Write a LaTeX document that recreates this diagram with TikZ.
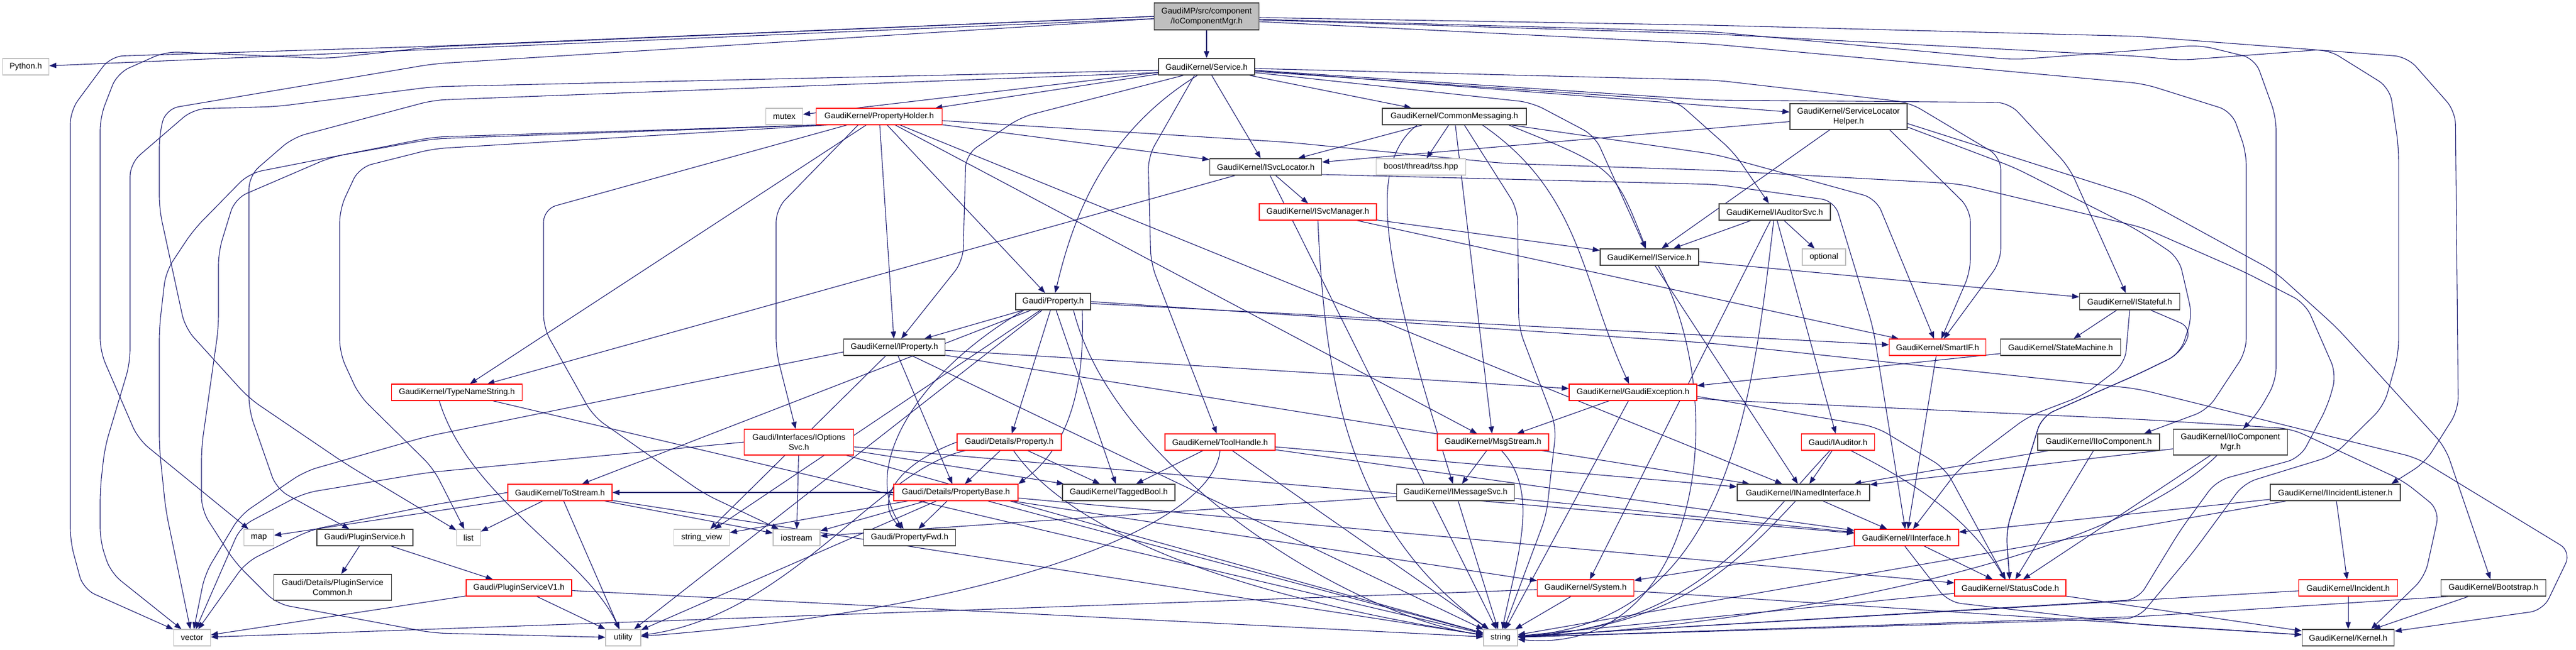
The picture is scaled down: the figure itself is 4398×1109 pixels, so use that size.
\documentclass[tikz,border=0pt]{standalone}
\usepackage{fontspec}
\setmainfont{Liberation Sans}
\usetikzlibrary{arrows.meta}
\definecolor{edgec}{HTML}{191970}
\definecolor{grayb}{HTML}{BFBFBF}
\definecolor{darkb}{HTML}{404040}
\definecolor{mainf}{HTML}{BFBFBF}
\newcommand\gvfont{\fontsize{14}{17}\selectfont}
\pgfdeclarelayer{edgelayer}
\pgfdeclarelayer{paperlayer}
\pgfsetlayers{paperlayer,edgelayer,main}
\tikzset{
  nbase/.style={rectangle, fill=white, line width=1.1pt, minimum height=28pt, inner sep=0pt, font=\gvfont, align=center, text=black},
  nb/.style={nbase, draw=darkb, line width=1.5pt, minimum width=#1},
  ng/.style={nbase, draw=grayb, minimum width=#1},
  nr/.style={nbase, draw=red, minimum width=#1},
  conn/.style={draw=edgec, line width=1.1pt, -{Triangle[length=12pt,width=9pt]}},
  connr/.style={conn, rounded corners=22pt},
}
\begin{document}
\begin{tikzpicture}[x=1pt,y=-1pt]
\useasboundingbox (0,0) rectangle (4398,1109);
\begin{pgfonlayer}{paperlayer}
\fill[white] (0,0) rectangle (4398,1109);
\end{pgfonlayer}
% ---------------- nodes ----------------
\node[nb=179pt, minimum height=46pt, fill=mainf] (io) at (2060,28) {GaudiMP/src/component\\/IoComponentMgr.h};
\node[nb=164pt] (svc) at (2060,114) {GaudiKernel/Service.h};
\node[ng=79pt] (py) at (44,114) {Python.h};
\node[ng=63pt] (mutex) at (1339,199) {mutex};
\node[nr=215pt] (ph) at (1501,199) {GaudiKernel/PropertyHolder.h};
\node[nb=246pt] (cm) at (2483,199) {GaudiKernel/CommonMessaging.h};
\node[nb=200pt, minimum height=44pt] (slh) at (3156,199) {GaudiKernel/ServiceLocator\\Helper.h};
\node[nb=191pt] (isl) at (2161,285) {GaudiKernel/ISvcLocator.h};
\node[ng=153pt] (tss) at (2426,285) {boost/thread/tss.hpp};
\node[nr=200pt] (ism) at (2250,362) {GaudiKernel/ISvcManager.h};
\node[nb=190pt] (ias) at (3030,362) {GaudiKernel/IAuditorSvc.h};
\node[nb=168pt] (isv) at (2816,439) {GaudiKernel/IService.h};
\node[ng=74pt] (opt) at (3114,439) {optional};
\node[nb=128pt] (prop) at (1798,515) {Gaudi/Property.h};
\node[nb=171pt] (ist) at (3636,515) {GaudiKernel/IStateful.h};
\node[nr=165pt] (sif) at (3308,593) {GaudiKernel/SmartIF.h};
\node[nb=205pt] (sm) at (3518,593) {GaudiKernel/StateMachine.h};
\node[nb=173pt] (ipr) at (1527,593) {GaudiKernel/IProperty.h};
\node[nr=223pt] (tns) at (780,670) {GaudiKernel/TypeNameString.h};
\node[nr=218pt] (gex) at (2788,670) {GaudiKernel/GaudiException.h};
\node[nr=178pt] (dprop) at (1723,755) {Gaudi/Details/Property.h};
\node[nr=188pt] (th) at (2083,755) {GaudiKernel/ToolHandle.h};
\node[nr=187pt, minimum height=44pt] (ios) at (1364,755) {Gaudi/Interfaces/IOptions\\Svc.h};
\node[nr=190pt] (msg) at (2549,755) {GaudiKernel/MsgStream.h};
\node[nr=125pt] (iaud) at (3138,755) {Gaudi/IAuditor.h};
\node[nb=208pt] (iioc) at (3583,755) {GaudiKernel/IIoComponent.h};
\node[nb=195pt, minimum height=44pt] (iiocm) at (3808,755) {GaudiKernel/IIoComponent\\Mgr.h};
\node[nr=178pt] (tos) at (956,841) {GaudiKernel/ToStream.h};
\node[nr=212pt] (pb) at (1632,841) {Gaudi/Details/PropertyBase.h};
\node[nb=192pt] (tb) at (1910,841) {GaudiKernel/TaggedBool.h};
\node[nb=201pt] (imsg) at (2485,841) {GaudiKernel/IMessageSvc.h};
\node[nb=226pt] (inamed) at (3079,841) {GaudiKernel/INamedInterface.h};
\node[nb=222pt] (iil) at (3987,841) {GaudiKernel/IIncidentListener.h};
\node[ng=51pt] (map) at (442,918) {map};
\node[nb=164pt] (ps) at (623,918) {Gaudi/PluginService.h};
\node[ng=41pt] (list) at (800,918) {list};
\node[ng=95pt] (sv) at (1198,918) {string\_view};
\node[ng=80pt] (iostr) at (1360,918) {iostream};
\node[nb=157pt] (pf) at (1553,918) {Gaudi/PropertyFwd.h};
\node[nr=178pt] (iif) at (3255,918) {GaudiKernel/IInterface.h};
\node[nb=201pt, minimum height=44pt] (pscom) at (568,1003) {Gaudi/Details/PluginService\\Common.h};
\node[nr=180pt] (psv1) at (886,1004) {Gaudi/PluginServiceV1.h};
\node[nr=165pt] (sys) at (2707,1004) {GaudiKernel/System.h};
\node[nr=190pt] (sc) at (3432,1004) {GaudiKernel/StatusCode.h};
\node[nr=169pt] (inc) at (4009,1004) {GaudiKernel/Incident.h};
\node[nb=179pt] (boot) at (4257,1004) {GaudiKernel/Bootstrap.h};
\node[ng=63pt] (vector) at (328,1089) {vector};
\node[ng=60pt] (utility) at (1064,1089) {utility};
\node[ng=58pt] (string) at (2562,1089) {string};
\node[nb=157pt] (kernel) at (4009,1089) {GaudiKernel/Kernel.h};
% ---------------- edges ----------------
\begin{pgfonlayer}{edgelayer}
% IoComponentMgr
\draw[conn] (io) -- (py);
\draw[conn] (io) -- (svc);
\draw[connr] (io.west) -- (740,79) -- (189,96) -- (120,189) -- (120,924) -- (142,1006) -- (vector);
\draw[connr] (io.west) -- (740,80) -- (557,100) -- (283,88) -- (200,125) -- (171,200) -- (171,600) -- (236,750) -- (map);
\draw[connr] ([yshift=-4pt]io.west) -- (740,109) -- (283,186) -- (272,230) -- (272,357) -- (316,560) -- (425,680) -- (590,792) -- (list);
\draw[connr] ([yshift=-2pt]io.east) -- (2920,43) -- (3650,62) -- (4110,97) -- (4192,190) -- (4197,700) -- (4140,790) -- ([xshift=-16pt]iil.north east);
\draw[connr] ([yshift=-5pt]io.east) -- (2920,54) -- (3439,102) -- (3650,86) -- (3755,77) -- (3850,100) -- (3886,200) -- (3886,650) -- (3855,705) -- ([xshift=120pt]iiocm.north west);
\draw[connr] ([yshift=-6pt]io.east) -- (2920,58) -- (3650,96) -- (3722,103) -- (3974,84) -- (4080,150) -- (4095,250) -- (4095,604) -- (4070,693) -- (3984,778) -- (3831,825) -- (3745,942) -- (3650,1056) -- (string);
\draw[connr] ([yshift=-9pt]io.east) -- (2920,75) -- (3660,143) -- (3810,190) -- (3835,260) -- (3835,600) -- (3769,700) -- ([xshift=-27pt]iioc.north east);
% Service
\draw[conn] (svc) -- (mutex);
\draw[conn] (svc) -- (ph);
\draw[conn] (svc) -- (cm);
\draw[conn] (svc) -- (slh);
\draw[conn] (svc) -- (isl);
\draw[conn] ([xshift=67pt]svc.south west) .. controls (1880,230) and (1830,380) .. (prop);
\draw[connr] ([xshift=43pt]svc.south west) -- (1743,200) -- (1649,264) -- (1644,446) -- (ipr);
\draw[connr] ([xshift=62pt]svc.south west) -- (1960,268) -- (1965,450) -- (th);
\draw[connr] ([yshift=-8pt]svc.east) -- (2860,171) -- (2960,260) -- (ias);
\draw[connr] ([yshift=-10pt]svc.east) -- (2615,175) -- (2723,232) -- (isv);
\draw[connr] ([yshift=-6pt]svc.east) -- (2920,171) -- (3430,175) -- (3533,286) -- (ist);
\draw[connr] ([yshift=-3pt]svc.east) -- (2930,137) -- (3260,175) -- (3416,268) -- (3416,446) -- (sif);
\draw[connr] ([yshift=-6pt]svc.west) -- (740,148) -- (472,182) -- (330,186) -- (222,279) -- (222,620) -- (179,764) -- (171,835) -- (171,924) -- (189,978) -- (vector);
\draw[connr] ([yshift=-10pt]svc.west) -- (740,171) -- (500,235) -- (425,300) -- (425,700) -- (472,835) -- (ps);
% PropertyHolder
\draw[conn] (ph) -- (ipr);
\draw[conn] (ph) -- (prop);
\draw[conn] (ph) -- (msg);
\draw[conn] (ph) -- (inamed);
\draw[conn] (ph) -- (isl);
\draw[conn] (ph) -- (tns);
\draw[connr] ([xshift=72pt]ph.south west) -- (1325,357) -- (1325,600) -- (ios);
\draw[connr] ([xshift=53pt]ph.south west) -- (928,357) -- (928,560) -- (1013,711) -- (1202,843) -- (iostr);
\draw[connr] (ph.south west) -- (740,234) -- (425,296) -- (330,393) -- (283,464) -- (272,560) -- (272,764) -- (283,871) -- (vector);
\draw[connr] ([xshift=6pt]ph.south west) -- (740,237) -- (566,268) -- (401,339) -- (373,430) -- (373,560) -- (344,764) -- (344,871) -- (401,960) -- (472,1031) -- (740,1081) -- (utility);
\draw[connr] ([xshift=20pt]ph.south west) -- (740,254) -- (613,286) -- (580,357) -- (580,603) -- (613,675) -- (740,800) -- (list);
\draw[connr] ([yshift=-7pt]ph.east) -- (2200,243) -- (2568,279) -- (2930,291) -- (3345,314) -- (3660,389) -- (3831,464) -- (3936,518) -- (3989,639) -- (3974,693) -- (3927,782) -- (3784,821) -- (3722,906) -- (3650,1024) -- (string);
% CommonMessaging
\draw[conn] (cm) -- (isl);
\draw[conn] (cm) -- (tss);
\draw[conn] ([xshift=60pt]cm.south west) .. controls (2320,290) and (2380,500) .. (imsg);
\draw[conn] (cm) -- (msg);
\draw[conn] ([xshift=172pt]cm.south west) .. controls (2700,330) and (2700,480) .. (gex);
\draw[conn] ([xshift=217pt]cm.south west) .. controls (2756,286) .. (isv);
\draw[connr] ([xshift=222pt]cm.south west) -- (2930,264) -- (3203,339) -- (sif);
\draw[connr] ([xshift=141pt]cm.south west) -- (2591,357) -- (2593,560) -- (2657,729) -- (2640,880) -- (string);
% ServiceLocatorHelper
\draw[conn] (slh) -- (isl);
\draw[conn] (slh) -- (isv);
\draw[connr] ([xshift=171pt]slh.south west) -- (3364,357) -- (3364,464) -- (sif);
\draw[connr] ([yshift=-12pt]slh.east) -- (3650,336) -- (3884,464) -- (3990,560) -- (4175,764) -- (boot);
\draw[connr] ([yshift=-18pt]slh.east) -- (3439,286) -- (3650,393) -- (3720,440) -- (3743,540) -- (3722,604) -- (3650,639) -- (3486,711) -- (3425,907) -- (sc);
% ISvcLocator, ISvcManager
\draw[conn] (isl) -- (ism);
\draw[conn] (isl) -- (tns);
\draw[conn] (isl) -- (string);
\draw[connr] ([yshift=-13pt]isl.east) -- (2930,315) -- (3132,343) -- (3198,560) -- (iif);
\draw[conn] (ism) -- (isv);
\draw[conn] (ism) -- (sif);
\draw[conn] (ism.south) .. controls (2262,650) and (2300,900) .. (string);
% IAuditorSvc, IService, IStateful
\draw[conn] (ias) -- (iaud);
\draw[conn] (ias) -- (isv);
\draw[conn] (ias) -- (sys);
\draw[conn] (ias) -- (opt);
\draw[conn] (ias) .. controls (2990,700) and (2950,1060) .. (string);
\draw[conn] (isv) -- (ist);
\draw[conn] (isv) -- (inamed);
\draw[conn] ([xshift=100pt]isv.south west) .. controls (2960,700) and (2900,1120) .. (string);
\draw[conn] (ist) -- (sm);
\draw[connr] (ist.south) -- (3628,621) -- (3557,675) -- (3463,711) -- (3345,800) -- (iif);
\draw[connr] ([xshift=-50pt]ist.south east) -- (3743,560) -- (3722,604) -- (3650,639) -- (3486,711) -- (3425,907) -- (sc);
\draw[conn] (sm) -- (gex);
\draw[conn] (sif) -- (iif);
% Gaudi/Property.h
\draw[conn] (prop) -- (dprop);
\draw[conn] ([xshift=-15pt]prop.south east) .. controls (1852,650) and (1830,760) .. (pb.north east);
\draw[conn] (prop) -- (ipr);
\draw[conn] (prop) -- (tb);
\draw[conn] (prop) -- (tos);
\draw[conn] ([xshift=-50pt]prop.south) .. controls (1560,640) and (1470,800) .. (pf);
\draw[conn] ([xshift=-30pt]prop.south east) .. controls (1900,800) and (2300,1050) .. (string);
\draw[conn] (prop) -- (utility);
\draw[conn] (prop) -- (sv);
\draw[conn] (prop) -- (sif);
\draw[connr] (prop.east) -- (2920,586) -- (3650,664) -- (4127,782) -- (4390,942) -- (4342,1042) -- (kernel);
% IProperty
\draw[conn] (ipr) -- (pb);
\draw[conn] (ipr) -- (gex);
\draw[conn] (ipr) -- (inamed);
\draw[conn] (ipr) -- (string);
\draw[conn] (ipr) -- (sv);
\draw[connr] ([yshift=-8pt]ipr.west) -- (730,745) -- (520,805) -- (410,880) -- (350,980) -- (vector);
% TypeNameString
\draw[conn] (tns) -- (string);
\draw[conn] ([xshift=-30pt]tns.south) .. controls (800,850) and (1000,950) .. (utility);
% GaudiException
\draw[conn] (gex) -- (msg);
\draw[conn] (gex) -- (string);
\draw[connr] ([yshift=-7pt]gex.east) -- (3203,729) -- (3321,800) -- (sc);
\draw[connr] ([yshift=-10pt]gex.east) -- (2930,683) -- (3650,716) -- (3912,732) -- (4103,821) -- (4165,871) -- (4140,985) -- ([xshift=-40pt]kernel.north east);
% Details/Property
\draw[conn] (dprop) -- (pb);
\draw[conn] (dprop) -- (tb);
\draw[conn] (dprop.west) .. controls (1540,790) and (1490,850) .. (pf);
\draw[conn] ([xshift=97pt]dprop.south west) .. controls (1800,870) and (2000,1000) .. (string);
\draw[conn] ([xshift=15pt]dprop.south west) .. controls (1500,800) and (1350,1050) .. (utility);
% ToolHandle
\draw[conn] (th) -- (tb);
\draw[conn] (th) -- (inamed);
\draw[conn] (th) -- (iif);
\draw[conn] (th) -- (string);
\draw[conn] (th.south) .. controls (2070,900) and (1700,1040) .. (utility);
% IOptionsSvc
\draw[conn] (ios) -- (tb);
\draw[conn] (ios) -- (iif);
\draw[conn] (ios) -- (string);
\draw[conn] (ios) -- (iostr);
\draw[connr] (ios.west) -- (730,807) -- (519,842) -- (411,899) -- (vector);
% MsgStream, IMessageSvc
\draw[conn] (msg) -- (imsg);
\draw[conn] ([xshift=110pt]msg.south west) .. controls (2630,840) and (2590,950) .. (string);
\draw[conn] (imsg) -- (iif);
\draw[conn] (imsg) -- (string);
\draw[conn] (imsg) -- (iostr);
% IAuditor, IIoComponent, IIoComponentMgr
\draw[conn] (iaud) -- (inamed);
\draw[conn] ([xshift=85pt]iaud.south west) .. controls (3300,840) and (3370,900) .. (sc);
\draw[conn] (iaud) .. controls (3000,900) and (2900,1070) .. (string);
\draw[conn] (iioc) -- (inamed);
\draw[conn] (iioc) -- (sc);
\draw[conn] (iiocm) -- (inamed);
\draw[conn] (iiocm) -- (sc);
\draw[conn] (iiocm) .. controls (3600,960) and (3000,1070) .. (string);
% ToStream
\draw[conn] (tos) -- (list);
\draw[conn] (tos) -- (map);
\draw[connr] (tos.west) -- (740,862) -- (530,905) -- (420,960) -- (vector);
\draw[conn] (tos) -- (iostr);
\draw[conn] (tos) -- (string);
\draw[conn] (tos) -- (utility);
% PropertyBase
\draw[conn] (pb) -- (pf);
\draw[conn] (pb) -- (tos);
\draw[conn] (pb) -- (string);
\draw[conn] (pb) -- (sv);
\draw[conn] (pb) -- (iostr);
\draw[conn] (pb) -- (utility);
\draw[conn] (pb) -- (sc);
\draw[conn] (pb) -- (sys);
% INamedInterface, IIncidentListener
\draw[conn] (inamed) -- (iif);
\draw[conn] (inamed) .. controls (2950,980) and (2850,1070) .. (string);
\draw[conn] (iil) -- (iif);
\draw[conn] (iil) -- (inc);
\draw[conn] (iil) -- (string);
% PluginService
\draw[conn] (ps) -- (pscom);
\draw[conn] (ps) -- (psv1);
\draw[conn] (psv1) -- (utility);
\draw[conn] (psv1) -- (string);
\draw[conn] (psv1) -- (vector);
% IInterface, System, StatusCode, Incident, Bootstrap
\draw[conn] (iif) -- (sc);
\draw[conn] (iif) -- (sys);
\draw[connr] ([xshift=-3pt]iif.south) -- (3326,1028) -- (3660,1067) -- (kernel);
\draw[conn] (sys) -- (kernel);
\draw[conn] (sys) -- (string);
\draw[conn] (sys) -- (vector);
\draw[conn] (sc) -- (kernel);
\draw[conn] (sc) -- (string);
\draw[conn] (inc) -- (kernel);
\draw[conn] (inc) -- (string);
\draw[conn] (boot) -- (kernel);
\draw[connr] ([xshift=12pt]boot.south west) -- (3650,1053) -- (string);
\end{pgfonlayer}
\end{tikzpicture}
\end{document}
